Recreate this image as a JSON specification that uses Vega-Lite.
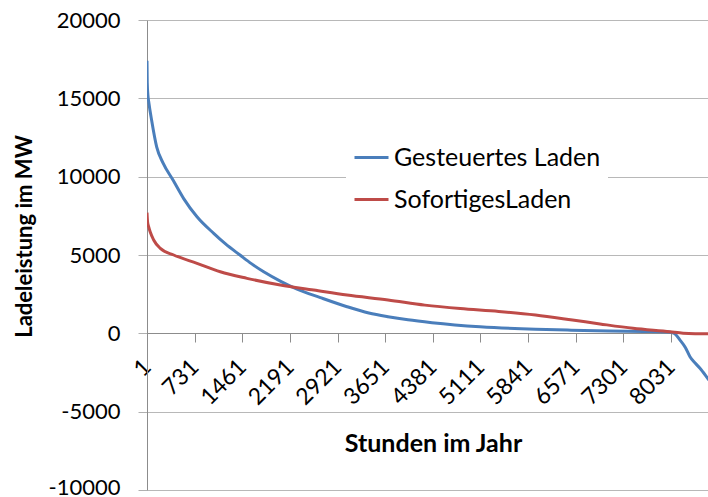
{
  "$schema": "https://vega.github.io/schema/vega-lite/v6.json",
  "autosize": "none",
  "padding": {"left": 147, "top": 20, "right": 0, "bottom": 7},
  "width": 561,
  "height": 470,
  "background": "white",
  "config": {
    "view": {"stroke": null},
    "font": "Lato",
    "axis": {"labelFont": "Lato", "titleFont": "Lato", "labelColor": "black", "titleColor": "black"}
  },
  "data": {
    "values": [
      {"h": 1, "v": 17400, "s": "Gesteuertes Laden"},
      {"h": 5, "v": 16000, "s": "Gesteuertes Laden"},
      {"h": 15, "v": 15200, "s": "Gesteuertes Laden"},
      {"h": 30, "v": 14700, "s": "Gesteuertes Laden"},
      {"h": 72, "v": 13600, "s": "Gesteuertes Laden"},
      {"h": 149, "v": 11900, "s": "Gesteuertes Laden"},
      {"h": 250, "v": 10850, "s": "Gesteuertes Laden"},
      {"h": 404, "v": 9750, "s": "Gesteuertes Laden"},
      {"h": 563, "v": 8600, "s": "Gesteuertes Laden"},
      {"h": 767, "v": 7440, "s": "Gesteuertes Laden"},
      {"h": 1023, "v": 6380, "s": "Gesteuertes Laden"},
      {"h": 1200, "v": 5720, "s": "Gesteuertes Laden"},
      {"h": 1431, "v": 4980, "s": "Gesteuertes Laden"},
      {"h": 1600, "v": 4450, "s": "Gesteuertes Laden"},
      {"h": 1789, "v": 3930, "s": "Gesteuertes Laden"},
      {"h": 2050, "v": 3320, "s": "Gesteuertes Laden"},
      {"h": 2300, "v": 2820, "s": "Gesteuertes Laden"},
      {"h": 2657, "v": 2280, "s": "Gesteuertes Laden"},
      {"h": 3066, "v": 1700, "s": "Gesteuertes Laden"},
      {"h": 3400, "v": 1300, "s": "Gesteuertes Laden"},
      {"h": 3694, "v": 1060, "s": "Gesteuertes Laden"},
      {"h": 4000, "v": 860, "s": "Gesteuertes Laden"},
      {"h": 4368, "v": 680, "s": "Gesteuertes Laden"},
      {"h": 5104, "v": 420, "s": "Gesteuertes Laden"},
      {"h": 5955, "v": 255, "s": "Gesteuertes Laden"},
      {"h": 6500, "v": 200, "s": "Gesteuertes Laden"},
      {"h": 7085, "v": 150, "s": "Gesteuertes Laden"},
      {"h": 7600, "v": 120, "s": "Gesteuertes Laden"},
      {"h": 7990, "v": 90, "s": "Gesteuertes Laden"},
      {"h": 8080, "v": 0, "s": "Gesteuertes Laden"},
      {"h": 8168, "v": -430, "s": "Gesteuertes Laden"},
      {"h": 8250, "v": -900, "s": "Gesteuertes Laden"},
      {"h": 8321, "v": -1490, "s": "Gesteuertes Laden"},
      {"h": 8400, "v": -1900, "s": "Gesteuertes Laden"},
      {"h": 8474, "v": -2230, "s": "Gesteuertes Laden"},
      {"h": 8597, "v": -2900, "s": "Gesteuertes Laden"},
      {"h": 8760, "v": -3800, "s": "Gesteuertes Laden"},
      {"h": 1, "v": 7700, "s": "SofortigesLaden"},
      {"h": 10, "v": 7100, "s": "SofortigesLaden"},
      {"h": 27, "v": 6800, "s": "SofortigesLaden"},
      {"h": 52, "v": 6450, "s": "SofortigesLaden"},
      {"h": 103, "v": 5960, "s": "SofortigesLaden"},
      {"h": 205, "v": 5420, "s": "SofortigesLaden"},
      {"h": 410, "v": 5000, "s": "SofortigesLaden"},
      {"h": 767, "v": 4470, "s": "SofortigesLaden"},
      {"h": 1124, "v": 3930, "s": "SofortigesLaden"},
      {"h": 1533, "v": 3510, "s": "SofortigesLaden"},
      {"h": 2044, "v": 3080, "s": "SofortigesLaden"},
      {"h": 2555, "v": 2760, "s": "SofortigesLaden"},
      {"h": 3066, "v": 2440, "s": "SofortigesLaden"},
      {"h": 3694, "v": 2130, "s": "SofortigesLaden"},
      {"h": 4258, "v": 1800, "s": "SofortigesLaden"},
      {"h": 4800, "v": 1580, "s": "SofortigesLaden"},
      {"h": 5390, "v": 1400, "s": "SofortigesLaden"},
      {"h": 5955, "v": 1170, "s": "SofortigesLaden"},
      {"h": 6520, "v": 850, "s": "SofortigesLaden"},
      {"h": 6942, "v": 600, "s": "SofortigesLaden"},
      {"h": 7448, "v": 320, "s": "SofortigesLaden"},
      {"h": 8015, "v": 100, "s": "SofortigesLaden"},
      {"h": 8215, "v": 10, "s": "SofortigesLaden"},
      {"h": 8400, "v": -20, "s": "SofortigesLaden"},
      {"h": 8760, "v": -30, "s": "SofortigesLaden"}
    ]
  },
  "mark": {"type": "line", "strokeWidth": 3, "interpolate": "monotone", "clip": true},
  "encoding": {
    "x": {
      "field": "h",
      "type": "quantitative",
      "scale": {"domain": [1, 8597], "nice": false, "zero": false},
      "axis": {
        "title": "Stunden im Jahr",
        "titleFontSize": 25,
        "titleFontWeight": "bold",
        "titleX": 286,
        "titleY": 110,
        "titleBaseline": "middle",
        "titleAlign": "center",
        "values": [1, 731, 1461, 2191, 2921, 3651, 4381, 5111, 5841, 6571, 7301, 8031],
        "format": "d",
        "offset": -157,
        "labelAngle": -45,
        "labelAlign": "right",
        "labelBaseline": "middle",
        "labelFontSize": 23,
        "labelPadding": 21,
        "labelOverlap": false,
        "labelFlush": false,
        "labelBound": false,
        "tickSize": 9,
        "tickColor": "#8c8c8c",
        "domainColor": "#8c8c8c",
        "grid": false
      }
    },
    "y": {
      "field": "v",
      "type": "quantitative",
      "scale": {"domain": [-10000, 20000], "nice": false},
      "axis": {
        "title": "Ladeleistung im MW",
        "titleFontSize": 22,
        "titleFontWeight": "bold",
        "titleX": -123,
        "titleY": 216,
        "titleAngle": -90,
        "titleBaseline": "middle",
        "titleAlign": "center",
        "values": [-10000, -5000, 0, 5000, 10000, 15000, 20000],
        "labelExpr": "datum.value + ''",
        "labelFontSize": 22,
        "labelPadding": 18,
        "labelOffset": {"condition": {"test": "datum.value == -10000", "value": -3}, "value": 0},
        "tickSize": 9,
        "tickColor": "#b0b0b0",
        "domainColor": "#8c8c8c",
        "grid": true,
        "gridColor": "#b8b8b8"
      }
    },
    "color": {
      "field": "s",
      "type": "nominal",
      "scale": {"domain": ["Gesteuertes Laden", "SofortigesLaden"], "range": ["#4a7ebb", "#be4b48"]},
      "legend": {
        "title": null,
        "orient": "none",
        "legendX": 199,
        "legendY": 112,
        "direction": "vertical",
        "fillColor": "white",
        "padding": 7,
        "symbolType": "stroke",
        "symbolSize": 1156,
        "symbolStrokeWidth": 3,
        "labelFont": "Lato",
        "labelFontSize": 25,
        "labelLimit": 400,
        "labelColor": "black",
        "labelOffset": 4,
        "rowPadding": 10
      }
    }
  }
}
